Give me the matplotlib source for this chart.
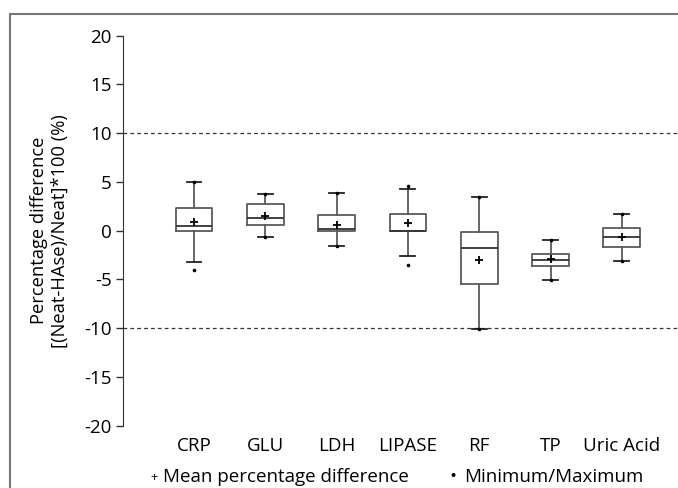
import numpy as np
import matplotlib
matplotlib.use('Agg')
import matplotlib.pyplot as plt
from matplotlib.patches import Rectangle

plt.rcParams['font.family'] = ['Open Sans', 'DejaVu Sans']
plt.rcParams['axes.unicode_minus'] = False

tests = ['CRP', 'GLU', 'LDH', 'LIPASE', 'RF', 'TP', 'Uric Acid']
q1 = [0.0, 0.58, 0.0, 0.0, -5.47, -3.62, -1.64]
med = [0.51, 1.3, 0.17, 0.0, -1.81, -3.0, -0.68]
q3 = [2.36, 2.7, 1.61, 1.74, -0.17, -2.39, 0.24]
whislo = [-3.18, -0.65, -1.54, -2.6, -10.1, -5.06, -3.1]
whishi = [4.96, 3.73, 3.83, 4.31, 3.43, -0.95, 1.68]
means = [0.89, 1.54, 0.58, 0.76, -3.0, -2.94, -0.61]
vmin = [-4.0, -0.65, -1.54, -3.52, -10.1, -5.06, -3.1]
vmax = [4.96, 3.73, 3.83, 4.58, 3.43, -0.95, 1.68]

W, H = 678, 488
fnt = 13.5
fig = plt.figure(figsize=(W / 100, H / 100), dpi=100)
ax = fig.add_axes([122.7 / W, 1 - 425.7 / H, 1 - 122.7 / W, (425.7 - 35.7) / H])

stats = []
for i in range(len(tests)):
    stats.append(dict(med=med[i], q1=q1[i], q3=q3[i], whislo=whislo[i],
                      whishi=whishi[i], mean=means[i],
                      fliers=[vmin[i], vmax[i]], label=tests[i]))

pos = np.arange(1, len(tests) + 1)
gc = '#5a5a5a'
ax.bxp(stats, positions=pos, widths=0.515, showmeans=True, showfliers=True,
       boxprops=dict(color=gc, lw=1.3),
       medianprops=dict(color='#333333', lw=1.3),
       whiskerprops=dict(color=gc, lw=1.3),
       capprops=dict(color='#222222', lw=1.3),
       capwidths=0.21,
       meanprops=dict(marker='+', markersize=5.5, markeredgecolor='k', markeredgewidth=1.3),
       flierprops=dict(marker='o', markersize=1.6, markerfacecolor='k', markeredgecolor='k'))

# +/-10 % limits
for yv in [10, -10]:
    ax.axhline(yv, color='#333333', ls=(0, (3, 2.5)), lw=0.9, zorder=0)

ax.set_xlim(0, (W - 122.7) / 71.3)
ax.set_ylim(-20, 20)
ax.set_yticks([-20, -15, -10, -5, 0, 5, 10, 15, 20])
ax.set_xticks(pos)
ax.set_xticklabels(tests)
ax.tick_params(axis='x', length=0, pad=8, labelsize=fnt)
ax.tick_params(axis='y', length=5, width=1, color='#333333', pad=3, labelsize=fnt)
for s in ['top', 'right', 'bottom']:
    ax.spines[s].set_visible(False)
ax.spines['left'].set_bounds(-20, 20)
ax.spines['left'].set_color('#333333')
ax.set_ylabel('Percentage difference\n[(Neat-HAse)/Neat]*100 (%)', fontsize=13.2,
              linespacing=1.2, labelpad=11)
ax.patch.set_alpha(0)

fig.text(150 / W, 1 - 477 / H, '+', fontsize=9, va='center', ha='left')
fig.text(163 / W, 1 - 477 / H, 'Mean percentage difference', fontsize=fnt, va='center', ha='left')
fig.text(449 / W, 1 - 477 / H, '\u2022', fontsize=fnt, va='center', ha='left')
fig.text(464 / W, 1 - 477 / H, 'Minimum/Maximum', fontsize=fnt, va='center', ha='left')

fig.patches.append(Rectangle((10 / W, -0.1), 1.2, 1.1 - 14 / H, transform=fig.transFigure,
                             fill=False, ec='#777777', lw=1.5))

fig.savefig('out.png', dpi=100)
